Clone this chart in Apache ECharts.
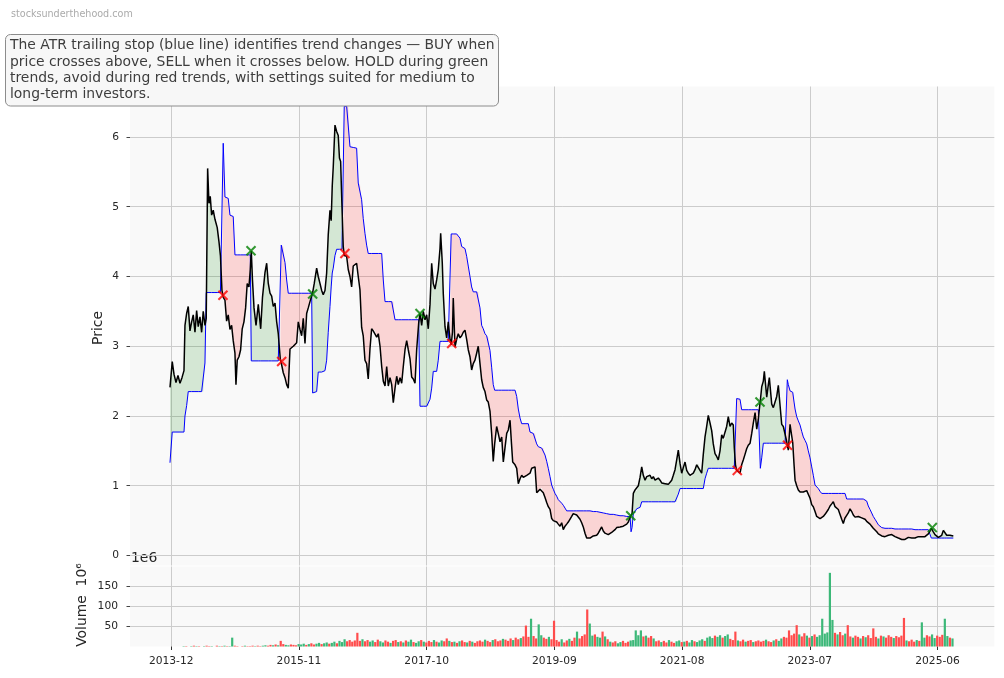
<!DOCTYPE html>
<html><head><meta charset="utf-8">
<script src="https://cdn.jsdelivr.net/npm/echarts@6/dist/echarts.min.js"></script>
<style>html,body{margin:0;padding:0;background:#fff}#c{width:1004px;height:678px}</style>
</head><body><div id="c"></div><script>
// ---- data (decimal years) ----
const dates = [
2013.898,2013.932,2013.958,2013.988,2014.018,2014.048,2014.078,2014.108,2014.123,2014.148,2014.172,2014.198,2014.223,2014.247,2014.273,2014.298,2014.322,2014.348,2014.373,2014.397,2014.423,2014.442,2014.463,2014.483,2014.502,2014.523,2014.547,2014.573,2014.607,2014.633,2014.655,2014.678,2014.697,
2014.723,2014.748,2014.772,2014.798,2014.823,2014.847,2014.873,2014.888,2014.907,2014.933,2014.958,2014.982,2015.008,2015.033,2015.057,2015.083,2015.103,2015.118,
2015.136,2015.159,2015.189,2015.223,2015.259,2015.286,2015.324,2015.349,2015.373,2015.399,2015.424,2015.448,2015.474,2015.499,2015.523,2015.553,2015.568,
2015.598,2015.624,2015.649,2015.673,2015.699,2015.724,2015.748,2015.774,2015.799,2015.823,2015.849,2015.874,2015.898,2015.924,2015.949,2015.973,2015.999,2016.024,2016.039,
2016.063,2016.099,2016.123,2016.149,2016.174,2016.198,2016.224,2016.249,2016.273,2016.299,2016.317,2016.333,2016.348,2016.374,2016.399,2016.423,2016.441,2016.459,2016.479,2016.498,2016.513,
2016.549,2016.573,2016.599,2016.624,2016.648,2016.674,2016.699,2016.723,2016.749,2016.774,2016.798,2016.824,2016.849,2016.873,2016.899,2016.924,2016.948,2016.975,2017.000,2017.024,2017.050,2017.075,2017.099,2017.125,2017.150,2017.174,2017.200,2017.225,2017.249,2017.275,2017.300,2017.324,2017.350,2017.375,2017.399,2017.425,2017.450,2017.474,2017.500,2017.525,2017.549,2017.575,2017.600,2017.630,2017.650,
2017.675,2017.699,2017.725,2017.750,2017.774,2017.800,2017.825,2017.849,2017.875,2017.900,2017.924,2017.950,2017.960,2017.984,2017.999,2018.025,2018.050,2018.074,2018.100,2018.118,
2018.137,2018.149,2018.175,2018.200,2018.224,2018.250,2018.275,2018.299,2018.325,2018.350,
2018.374,2018.400,2018.425,2018.449,2018.475,2018.500,2018.524,2018.550,2018.575,2018.599,
2018.625,2018.650,2018.674,2018.700,2018.725,2018.749,2018.770,2018.800,2018.824,2018.851,
2018.876,2018.900,2018.926,2018.951,2018.975,2019.001,2019.023,2019.041,2019.076,2019.101,
2019.125,2019.151,2019.176,2019.200,2019.226,2019.251,2019.275,2019.301,2019.326,2019.350,
2019.376,2019.401,2019.425,2019.451,2019.476,2019.500,2019.526,2019.551,2019.575,2019.601,
2019.626,2019.650,2019.676,2019.701,2019.725,2019.751,2019.776,2019.800,2019.826,2019.851,
2019.875,2019.901,2019.926,2019.950,2019.976,2020.001,2020.025,2020.051,2020.076,2020.100,
2020.126,2020.151,2020.175,2020.201,2020.226,2020.250,2020.276,2020.301,2020.325,2020.351,
2020.376,2020.400,2020.426,2020.451,2020.475,2020.501,2020.526,2020.550,2020.576,2020.601,
2020.625,2020.651,2020.676,2020.700,2020.727,2020.752,2020.776,2020.802,2020.817,
2020.832,2020.851,2020.877,2020.902,2020.926,2020.952,2020.977,2021.001,2021.027,2021.052,
2021.076,2021.102,2021.127,2021.151,2021.177,2021.202,2021.226,2021.252,2021.277,2021.301,
2021.327,2021.352,2021.376,2021.402,2021.427,2021.451,2021.477,2021.502,2021.526,2021.552,
2021.577,2021.601,2021.627,2021.652,2021.676,2021.702,2021.727,2021.751,2021.777,2021.802,
2021.826,2021.852,2021.877,2021.901,2021.927,2021.952,2021.976,2022.002,2022.027,2022.051,
2022.077,2022.102,2022.126,2022.152,2022.177,2022.201,2022.227,2022.252,2022.276,2022.302,
2022.327,2022.351,2022.366,2022.384,2022.402,
2022.426,2022.452,2022.477,2022.501,2022.527,2022.552,2022.576,2022.603,2022.628,2022.652,2022.678,2022.703,2022.727,2022.748,2022.757,
2022.778,2022.802,2022.817,2022.853,2022.877,2022.892,2022.928,2022.952,2022.978,2023.003,2023.027,2023.053,2023.078,2023.102,2023.128,2023.147,2023.162,
2023.177,2023.203,2023.222,2023.243,2023.263,2023.278,2023.303,2023.327,2023.353,2023.378,
2023.402,2023.428,2023.453,2023.477,2023.503,2023.528,2023.552,2023.578,2023.603,2023.627,
2023.653,2023.678,2023.702,2023.728,2023.753,2023.777,2023.803,2023.828,2023.852,2023.878,
2023.903,2023.927,2023.953,2023.978,2024.002,2024.028,2024.053,2024.077,2024.103,2024.128,
2024.152,2024.178,2024.203,2024.227,2024.253,2024.278,2024.302,2024.328,2024.353,2024.377,
2024.403,2024.428,2024.452,2024.478,2024.504,2024.528,2024.553,2024.579,2024.603,2024.628,
2024.654,2024.678,2024.703,2024.729,2024.753,2024.778,2024.804,2024.828,2024.853,2024.879,
2024.903,2024.928,2024.954,2024.978,2025.003,2025.029,2025.053,2025.078,2025.104,2025.128,
2025.153,2025.179,2025.203,2025.228,2025.254,2025.278,2025.303,2025.323,
2025.353,2025.378,2025.404,2025.428,2025.453,2025.479,2025.503,2025.518,2025.554,2025.578,2025.603,2025.629,2025.653
];
const close = [
2.41,2.78,2.60,2.48,2.58,2.47,2.55,2.65,3.30,3.47,3.57,3.22,3.35,3.45,3.20,3.51,3.28,3.42,3.20,3.50,3.30,3.40,5.55,5.05,5.15,4.88,4.95,4.82,4.70,4.50,4.30,3.80,3.70,
3.66,3.36,3.45,3.24,3.30,3.08,2.90,2.45,2.80,2.85,2.95,3.25,3.35,3.55,3.90,3.85,4.10,4.37,
3.95,3.55,3.30,3.60,3.25,3.70,4.06,4.19,3.90,3.76,3.72,3.57,3.62,3.35,3.18,2.82,2.76,
2.62,2.55,2.45,2.40,2.96,2.97,3.00,2.98,3.05,3.35,3.24,3.15,3.40,3.04,3.47,3.55,3.64,3.72,3.77,
3.90,4.12,4.00,3.90,3.80,3.74,3.80,4.05,4.60,4.95,4.80,5.30,5.57,6.17,6.08,6.02,5.70,5.65,5.00,4.43,4.30,
4.29,4.10,4.00,3.85,4.15,4.15,4.19,4.00,3.81,3.27,3.15,2.80,2.75,2.53,2.96,3.25,3.22,3.23,3.13,3.18,3.00,2.71,2.50,2.43,2.71,2.43,2.55,2.45,2.19,2.40,2.57,2.45,2.55,2.47,2.71,2.95,3.08,2.95,2.82,2.56,2.53,2.47,2.95,3.33,3.47,
3.30,3.50,3.38,3.45,3.25,3.60,4.19,3.90,3.82,3.95,4.10,4.40,4.62,4.20,3.76,3.28,3.12,3.35,3.10,3.02,
3.20,3.69,2.99,3.10,3.18,3.12,3.15,3.20,3.23,3.10,
2.95,2.85,2.66,2.75,2.80,2.90,3.00,2.75,2.52,2.41,
2.35,2.23,2.20,2.07,1.75,1.35,1.60,1.85,1.75,1.63,
1.70,1.34,1.55,1.75,1.80,1.94,1.60,1.34,1.30,1.25,
1.03,1.10,1.15,1.12,1.14,1.15,1.15,1.18,1.25,1.24,
1.27,0.90,0.90,0.95,0.97,0.90,0.83,0.76,0.70,0.66,
0.53,0.50,0.50,0.48,0.45,0.42,0.47,0.37,0.42,0.45,
0.48,0.50,0.56,0.60,0.62,0.58,0.56,0.52,0.47,0.41,
0.32,0.25,0.24,0.25,0.27,0.28,0.28,0.29,0.32,0.33,
0.41,0.35,0.32,0.31,0.30,0.32,0.33,0.35,0.37,0.40,
0.38,0.41,0.43,0.42,0.44,0.45,0.48,0.55,0.57,
0.60,0.89,0.94,0.92,1.00,1.12,1.27,1.15,1.08,1.13,
1.12,1.15,1.10,1.13,1.08,1.10,1.11,1.08,1.04,1.06,
1.03,1.05,1.02,1.05,1.08,1.15,1.23,1.37,1.51,1.32,
1.18,1.26,1.34,1.22,1.18,1.15,1.13,1.18,1.23,1.30,
1.32,1.22,1.18,1.45,1.70,1.85,2.01,1.90,1.79,1.60,
1.46,1.42,1.37,1.50,1.73,1.68,1.66,1.85,1.99,1.85,
1.90,1.87,1.55,1.30,1.22,
1.21,1.18,1.30,1.37,1.45,1.53,1.58,1.61,1.75,1.90,2.05,1.81,1.95,2.15,2.22,
2.42,2.50,2.64,2.27,2.45,2.55,2.17,2.12,2.20,2.28,2.44,2.15,1.88,1.85,1.83,1.66,1.58,
1.51,1.88,1.75,1.62,1.30,1.08,1.00,0.94,0.91,0.92,
0.91,0.91,0.93,0.93,0.82,0.73,0.70,0.63,0.56,0.55,
0.53,0.52,0.56,0.59,0.59,0.66,0.71,0.74,0.77,0.70,
0.68,0.66,0.64,0.52,0.46,0.54,0.52,0.61,0.67,0.63,
0.58,0.55,0.55,0.56,0.54,0.54,0.52,0.52,0.49,0.47,
0.45,0.42,0.39,0.37,0.34,0.31,0.29,0.28,0.26,0.27,
0.28,0.29,0.30,0.30,0.29,0.27,0.26,0.25,0.24,0.23,
0.21,0.23,0.24,0.26,0.26,0.25,0.24,0.25,0.26,0.27,
0.28,0.27,0.26,0.27,0.29,0.31,0.35,0.39,
0.34,0.30,0.28,0.26,0.27,0.29,0.36,0.38,0.29,0.30,0.29,0.29,0.28
];
const stop = [
1.33,1.77,1.77,1.77,1.77,1.77,1.77,1.77,2.00,2.15,2.35,2.35,2.35,2.35,2.35,2.35,2.35,2.35,2.35,2.35,2.76,3.77,3.77,3.77,3.77,3.77,3.77,3.77,3.77,3.77,3.77,3.77,5.91,
5.14,5.13,5.12,4.88,4.87,4.86,4.31,4.31,4.31,4.31,4.31,4.31,4.31,4.31,4.31,4.31,4.31,2.79,
2.79,2.79,2.79,2.79,2.79,2.79,2.79,2.79,2.79,2.79,2.79,2.79,2.79,2.79,2.79,2.79,4.45,
4.43,4.20,3.95,3.76,3.76,3.76,3.76,3.76,3.76,3.76,3.76,3.76,3.76,3.76,3.76,3.76,3.76,3.76,2.33,
2.33,2.35,2.63,2.63,2.63,2.63,2.65,2.80,3.20,3.57,3.85,4.05,4.12,4.30,4.39,4.39,4.39,4.39,4.39,4.39,6.44,
6.44,6.44,5.86,5.86,5.85,5.85,5.84,5.34,5.32,5.10,4.83,4.62,4.45,4.33,4.33,4.33,4.33,4.33,4.33,4.33,4.33,4.33,3.95,3.64,3.64,3.64,3.64,3.64,3.64,3.38,3.38,3.38,3.38,3.38,3.38,3.38,3.38,3.38,3.38,3.38,3.38,3.38,3.38,3.38,2.14,
2.14,2.14,2.14,2.14,2.14,2.24,2.40,2.64,2.64,2.64,2.80,3.07,3.07,3.07,3.07,3.07,3.07,3.07,3.07,4.61,
4.61,4.61,4.61,4.61,4.58,4.55,4.43,4.42,4.40,4.29,
4.15,4.00,3.85,3.78,3.78,3.78,3.78,3.55,3.30,3.25,
3.18,3.15,3.13,2.94,2.70,2.45,2.37,2.37,2.37,2.37,
2.37,2.37,2.37,2.37,2.37,2.37,2.37,2.37,2.37,2.28,
2.10,1.97,1.89,1.89,1.89,1.89,1.89,1.77,1.76,1.75,
1.75,1.60,1.56,1.55,1.54,1.54,1.44,1.35,1.25,1.13,
1.01,0.95,0.89,0.85,0.80,0.78,0.75,0.72,0.68,0.64,
0.64,0.64,0.64,0.64,0.64,0.64,0.64,0.64,0.64,0.64,
0.64,0.64,0.64,0.64,0.64,0.63,0.63,0.63,0.62,0.62,
0.61,0.61,0.60,0.60,0.60,0.59,0.59,0.59,0.58,0.58,
0.58,0.57,0.57,0.57,0.57,0.56,0.56,0.56,0.34,
0.40,0.60,0.63,0.67,0.68,0.69,0.77,0.77,0.77,0.77,
0.77,0.77,0.77,0.77,0.77,0.77,0.77,0.77,0.77,0.77,
0.77,0.77,0.77,0.77,0.77,0.77,0.77,0.77,0.88,0.96,
0.96,0.96,0.96,0.96,0.96,0.96,0.96,0.96,0.96,0.96,
0.96,0.96,0.96,0.96,1.10,1.18,1.25,1.25,1.25,1.25,
1.25,1.25,1.25,1.25,1.25,1.25,1.25,1.25,1.25,1.25,
1.25,1.25,1.25,1.25,2.25,
2.25,2.24,2.09,2.09,2.09,2.09,2.09,2.09,2.09,2.09,2.09,2.09,2.09,2.09,1.25,
1.40,1.61,1.61,1.61,1.61,1.61,1.61,1.61,1.61,1.61,1.61,1.61,1.61,1.61,1.61,1.61,2.52,
2.45,2.36,2.35,2.34,2.20,2.10,1.99,1.93,1.87,1.78,
1.70,1.65,1.60,1.50,1.40,1.27,1.15,1.01,0.99,0.96,
0.92,0.89,0.89,0.89,0.89,0.89,0.89,0.89,0.89,0.89,
0.89,0.89,0.89,0.89,0.89,0.89,0.81,0.81,0.81,0.81,
0.81,0.81,0.81,0.81,0.81,0.81,0.81,0.81,0.78,0.71,
0.66,0.61,0.56,0.52,0.48,0.44,0.42,0.40,0.39,0.39,
0.39,0.39,0.39,0.39,0.38,0.38,0.38,0.38,0.38,0.38,
0.38,0.38,0.38,0.38,0.38,0.38,0.37,0.37,0.37,0.37,
0.37,0.37,0.37,0.37,0.37,0.37,0.37,0.25,
0.25,0.25,0.25,0.25,0.25,0.25,0.25,0.25,0.25,0.25,0.25,0.25,0.25
];
const buyDates = [2015.114, 2016.039, 2017.650, 2020.812, 2022.752, 2025.338];
const buyPrice = [4.37, 3.75, 3.47, 0.57, 2.20, 0.40];
const sellDates = [2014.693, 2015.574, 2016.523, 2018.126, 2022.411, 2023.165];
const sellPrice = [3.73, 2.78, 4.33, 3.04, 1.22, 1.58];

// biweekly volume (millions)
const volStart = 2013.95, volStep = 14 / 365.25;
const volume = [
0,0,0,0,1,1,0,1,2,1, 1,0,1,2,1,1,0,2,1,1, 2,1,1,22,2,1,0,1,2,1, 1,2,1,2,1,2,3,2,4,3,
5,3,14,6,4,3,5,4,3,6, 5,7,4,6,8,5,7,9,6,8, 10,7,9,12,8,14,11,18,13,16, 12,15,34,14,18,13,16,12,15,11,
17,13,10,15,12,9,14,16,11,13, 10,15,12,17,11,9,13,16,12,10, 14,11,16,12,10,15,13,20,14,11, 12,9,13,15,11,10,14,12,9,13,
15,12,17,14,11,16,18,13,15,19, 17,14,20,16,22,18,21,25,52,24, 69,26,20,55,28,22,19,24,18,64, 16,12,18,10,15,19,14,22,37,20,
26,30,92,57,27,30,24,22,37,25, 18,12,10,13,8,11,14,9,12,15, 16,40,28,40,25,27,22,26,20,13, 15,11,14,10,16,12,9,13,15,11,
12,14,10,16,13,11,15,18,14,22, 25,21,27,24,28,22,26,30,19,16, 37,15,13,17,12,14,16,11,13,15, 12,14,17,13,11,15,18,14,20,24,
22,40,28,32,53,30,25,33,27,22, 26,30,24,28,69,32,35,183,66,34, 30,36,28,32,53,25,22,27,24,20, 26,23,28,21,45,24,20,27,25,22,
28,24,21,26,23,27,71,15,13,17, 12,16,14,60,22,28,25,30,21,27, 24,29,69,26,22,20
];
const volDir =
'uudduduudu'+'duudduudud'+'uduuddudud'+'ddudduuddu'+'dudduudddu'+'uududduudu'+'uduuduuudd'+'ddddudduud'+
'duudduddud'+'uduuduudud'+'dduduuddud'+'ududdududd'+'dduddudddu'+'dddudduddd'+'udduuddudd'+'ddudduddud'+
'ddduuduudu'+'dudduudddu'+'uuuududdud'+'duddudduud'+'uduuduuudu'+'uuduuduudd'+'dudduddudd'+'ddudduduud'+
'ddddduddud'+'uduuuuuuud'+'uddudduddu'+'duddddudud'+'dduddddudd'+'duduudduud'+'dduudu';

const tickLabels = ['2013-12','2015-11','2017-10','2019-09','2021-08','2023-07','2025-06'];
const priceTicks = [0,1,2,3,4,5,6];
const volTicks = [50,100,150];
const noteLines = [
 'The ATR trailing stop (blue line) identifies trend changes \u2014 BUY when',
 'price crosses above, SELL when it crosses below. HOLD during green',
 'trends, avoid during red trends, with settings suited for medium to',
 'long-term investors.'
];
const watermark = 'stocksunderthehood.com';

// ---- build ----
if (dates.length !== close.length || dates.length !== stop.length) console.error('len mismatch', dates.length, close.length, stop.length);
if (volume.length !== volDir.length) console.error('vol mismatch', volume.length, volDir.length);

const X_MIN = 2013.298, X_MAX = 2026.268;
const tickVals = tickLabels.map(s => { const [y, m] = s.split('-').map(Number); return y + (m - 1) / 12; });
const priceLine = dates.map((t, i) => [t, close[i]]);
const stopLine = dates.map((t, i) => [t, stop[i]]);
const FILL_UP = 'rgba(0,128,0,0.15)', FILL_DN = 'rgba(255,0,0,0.15)';

// fill between price and stop: one polygon per regime, split at crossings
function renderBands(params, api) {
  const children = [];
  const P = i => api.coord([dates[i], close[i]]);
  const S = i => api.coord([dates[i], stop[i]]);
  let cur = null;
  const flush = () => {
    if (cur && cur.top.length > 1) {
      children.push({ type: 'polygon', shape: { points: cur.top.concat(cur.bot.slice().reverse()) },
        style: { fill: cur.sign > 0 ? FILL_UP : FILL_DN } });
    }
  };
  for (let i = 0; i < dates.length; i++) {
    const d = close[i] - stop[i];
    const sg = d >= 0 ? 1 : -1;
    if (!cur) { cur = { sign: sg, top: [P(i)], bot: [S(i)] }; continue; }
    if (sg === cur.sign) { cur.top.push(P(i)); cur.bot.push(S(i)); }
    else {
      const d0 = close[i - 1] - stop[i - 1];
      const f = d0 / (d0 - d);
      const t = dates[i - 1] + f * (dates[i] - dates[i - 1]);
      const v = close[i - 1] + f * (close[i] - close[i - 1]);
      const C = api.coord([t, v]);
      cur.top.push(C); cur.bot.push(C); flush();
      cur = { sign: sg, top: [C, P(i)], bot: [C, S(i)] };
    }
  }
  flush();
  return { type: 'group', children };
}

const GREEN_BAR = '#3cb878', RED_BAR = '#ff4c4c';
const volData = volume.map((v, i) => ({ value: [volStart + i * volStep, v], itemStyle: { color: volDir[i] === 'u' ? GREEN_BAR : RED_BAR } }));
const xPath = 'path://M1.4,0L5,3.6L8.6,0L10,1.4L6.4,5L10,8.6L8.6,10L5,6.4L1.4,10L0,8.6L3.6,5L0,1.4Z';
const FONT = 'DejaVu Sans';
const GRID_C = '#cccccc';

const chart = echarts.init(document.getElementById('c'), null, { renderer: 'canvas' });
chart.setOption({
  animation: false,
  backgroundColor: '#ffffff',
  grid: [
    { left: 130, top: 86.5, width: 864.3, height: 479, show: true, backgroundColor: '#f9f9f9', borderWidth: 0, containLabel: false, outerBoundsMode: 'none' },
    { left: 130, top: 86.5, width: 864.3, height: 469, show: false, containLabel: false, outerBoundsMode: 'none' },
    { left: 130, top: 566.5, width: 864.3, height: 80, show: true, backgroundColor: '#f9f9f9', borderWidth: 0, containLabel: false, outerBoundsMode: 'none' }
  ],
  xAxis: [
    { type: 'value', gridIndex: 0, min: X_MIN, max: X_MAX, axisLine: { show: false },
      axisTick: { show: false, customValues: tickVals }, axisLabel: { show: false, customValues: tickVals },
      splitLine: { show: true, lineStyle: { color: GRID_C, width: 1 } } },
    { type: 'value', gridIndex: 1, min: X_MIN, max: X_MAX, axisLine: { show: false }, axisTick: { show: false }, axisLabel: { show: false }, splitLine: { show: false } },
    { type: 'value', gridIndex: 2, min: X_MIN, max: X_MAX, axisLine: { show: false },
      axisTick: { show: true, customValues: tickVals, length: 3.5, lineStyle: { color: '#333', width: 1 } },
      axisLabel: { show: true, customValues: tickVals, margin: 9, color: '#262626', fontFamily: FONT, fontSize: 10.7,
        formatter: v => { const k = tickVals.findIndex(t => Math.abs(t - v) < 1e-6); return k >= 0 ? tickLabels[k] : ''; } },
      splitLine: { show: true, lineStyle: { color: GRID_C, width: 1 } } }
  ],
  yAxis: [
    { type: 'value', gridIndex: 0, min: 0, max: 1, show: false },
    { type: 'value', gridIndex: 1, min: 0, max: 6.724, axisLine: { show: false },
      axisTick: { show: true, customValues: priceTicks, length: 3.5, lineStyle: { color: '#444' } },
      axisLabel: { customValues: priceTicks, margin: 11, color: '#262626', fontFamily: FONT, fontSize: 10.7 },
      splitLine: { show: true, lineStyle: { color: GRID_C, width: 1 } } },
    { type: 'value', gridIndex: 2, min: 0, max: 198.75, axisLine: { show: false },
      axisTick: { show: true, customValues: volTicks, length: 3.5, lineStyle: { color: '#444' } },
      axisLabel: { customValues: volTicks, margin: 12, color: '#262626', fontFamily: FONT, fontSize: 10.7 },
      splitLine: { show: true, lineStyle: { color: GRID_C, width: 1 } } }
  ],
  series: [
    { type: 'custom', xAxisIndex: 1, yAxisIndex: 1, data: [[dates[0], close[0]]], renderItem: renderBands, silent: true, z: 1 },
    { type: 'line', xAxisIndex: 1, yAxisIndex: 1, data: stopLine, symbol: 'none', silent: true, z: 2, lineStyle: { color: '#0000ff', width: 1 } },
    { type: 'line', xAxisIndex: 1, yAxisIndex: 1, data: priceLine, symbol: 'none', silent: true, z: 3, lineStyle: { color: '#000000', width: 1.5 } },
    { type: 'scatter', xAxisIndex: 1, yAxisIndex: 1, data: buyDates.map((t, i) => [t, buyPrice[i]]), symbol: xPath, symbolSize: 10.5, itemStyle: { color: '#008000' }, silent: true, z: 5 },
    { type: 'scatter', xAxisIndex: 1, yAxisIndex: 1, data: sellDates.map((t, i) => [t, sellPrice[i]]), symbol: xPath, symbolSize: 10.5, itemStyle: { color: '#ff0000' }, silent: true, z: 5 },
    { type: 'bar', xAxisIndex: 2, yAxisIndex: 2, data: volData, barWidth: 2.2, silent: true }
  ],
  graphic: [
    { type: 'text', x: 11, y: 9, style: { text: watermark, font: '9.6px "DejaVu Sans"', fill: '#aaaaaa' } },
    { type: 'rect', z: 100, shape: { x: 5.5, y: 34.5, width: 493, height: 71.5, r: 5 }, style: { fill: '#f7f7f7', stroke: '#8c8c8c', lineWidth: 1 } },
    { type: 'text', z: 101, x: 10, y: 37.5, style: { text: noteLines.join('\n'), font: '13.9px "DejaVu Sans"', fill: '#3d3d3d', lineHeight: 16.3 } },
    { type: 'text', x: 98, y: 328, rotation: Math.PI / 2, style: { text: 'Price', font: '13.9px "DejaVu Sans"', fill: '#262626', align: 'center', verticalAlign: 'middle', textAlign: 'center', textVerticalAlign: 'middle' } },
    { type: 'text', x: 82, y: 605, rotation: Math.PI / 2, style: { text: 'Volume  10\u2076', font: '13.9px "DejaVu Sans"', fill: '#262626', align: 'center', verticalAlign: 'middle', textAlign: 'center', textVerticalAlign: 'middle' } },
    { type: 'text', x: 131, y: 558, style: { text: '1e6', font: '13.9px "DejaVu Sans"', fill: '#262626', verticalAlign: 'middle', textVerticalAlign: 'middle' } }
  ]
});
</script></body></html>
